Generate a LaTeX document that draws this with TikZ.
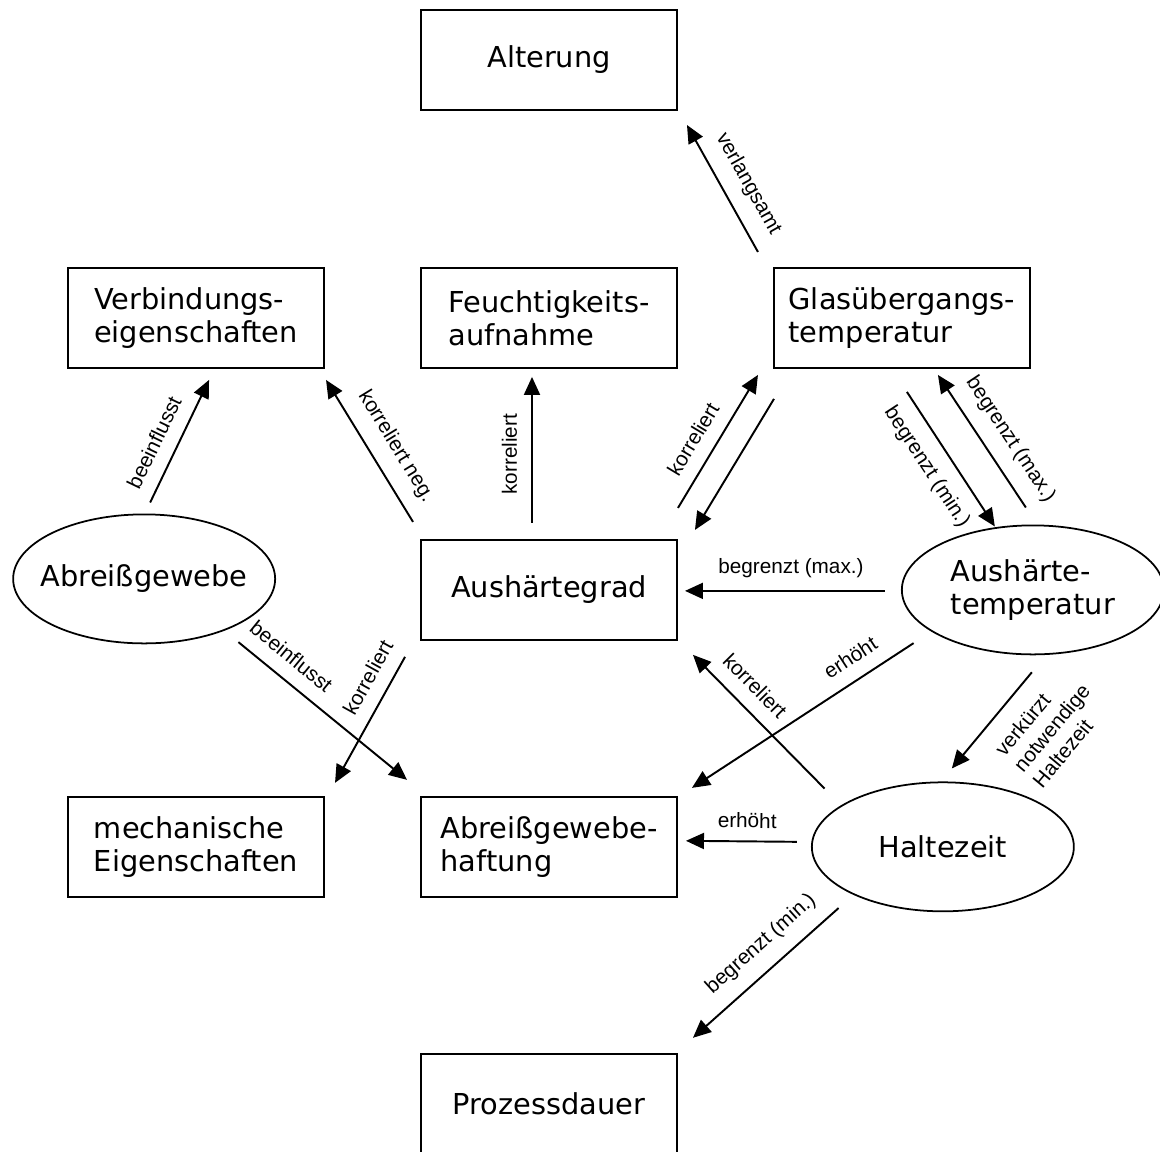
\documentclass[tikz,border=0pt]{standalone}
\usepackage{fontspec}
\setmainfont{DejaVu Sans}
\newfontfamily\arialfont{Liberation Sans}
\usetikzlibrary{arrows.meta,positioning,shapes.geometric}

\begin{document}
\begin{tikzpicture}[
    x=0.2mm, y=-0.2mm,
    box/.style={rectangle, draw, line width=1.1pt, align=left, minimum width=5.12cm, minimum height=2cm, font=\fontsize{16.4}{18.8}\selectfont},
    oval/.style={ellipse, draw, line width=1pt, align=left, inner sep=1pt, minimum width=5.24cm, minimum height=2.58cm, font=\fontsize{16.4}{18.8}\selectfont},
    arrow/.style={-{Triangle[length=3.6mm,width=3.2mm]}, line width=1.1pt},
    rel/.style={sloped, inner sep=8pt, font=\arialfont\fontsize{11.8}{14}\selectfont}
]
\useasboundingbox (0,0) rectangle (1160,1151);

% boxes
\node[box] (alter) at (549,60) {Alterung};
\node[box, below=3.12cm of alter] (feucht) {Feuchtigkeits-\\aufnahme};
\node[box, left=1.9cm of feucht] (verb) {Verbindungs-\\eigenschaften};
\node[box, right=1.9cm of feucht] (glas) {Glasübergangs-\\temperatur};
\node[box, below=3.4cm of feucht] (grad) {Aushärtegrad};
\node[box, below=3.1cm of grad] (haft) {Abreißgewebe-\\haftung};
\node[box, left=1.9cm of haft] (mech) {mechanische\\Eigenschaften};
\node[box, below=3.1cm of haft] (dauer) {Prozessdauer};

% influencing factors
\node[oval, inner xsep=-3mm, left=2.88cm of grad, yshift=2.2mm] (gewebe) {Abreißgewebe};
\node[oval, right=4.46cm of grad] (temp) {Aushärte-\\temperatur};
\node[oval, right=2.66cm of haft] (halte) {Haltezeit};

% relations
\draw[arrow] ([shift={(-15,-15)}]glas.north west) -- node[rel, above, pos=.44] {verlangsamt} ([shift={(9,14)}]alter.south east);
\draw[arrow] ([shift={(6,-11)}]gewebe.north) -- node[rel, above, pos=.41] {beeinflusst} ([shift={(13,11)}]verb.south);
\draw[arrow] ([shift={(-7,-17)}]grad.north west) -- node[rel, above, pos=.44] {korreliert neg.} ([shift={(1,11)}]verb.south east);
\draw[arrow] ([shift={(-17,-16)}]grad.north) -- node[rel, above, pos=.47] {korreliert} ([shift={(-17,8)}]feucht.south);
\draw[arrow] ([shift={(0,-31)}]grad.north east) -- node[rel, above, pos=.43] {korreliert} ([shift={(-15,6)}]glas.south west);
\draw[arrow] ([shift={(1,30)}]glas.south west) -- ([shift={(17,-9)}]grad.north east);
\draw[arrow] ([shift={(5,23)}]glas.south) -- node[rel, below, pos=.46] {begrenzt (min.)} ([shift={(-38,2)}]temp.north);
\draw[arrow] ([shift={(-7,-17)}]temp.north) -- node[rel, above, pos=.41] {begrenzt (max.)} ([shift={(36,6)}]glas.south);
\draw[arrow] ([shift={(-16,1)}]temp.west) -- node[rel, above, inner sep=7pt, pos=.47] {begrenzt (max.)} ([shift={(7,1)}]grad.east);
\draw[arrow] ([shift={(-26,7)}]temp.south west) -- node[rel, above, pos=.23] {erhöht} ([shift={(14,-8)}]haft.north east);
\draw[arrow] ([shift={(-25,-12)}]halte.north west) -- node[rel, above, pos=.65] {korreliert} ([shift={(15,14)}]grad.south east);
\draw[arrow] ([shift={(-1,17)}]temp.south) -- node[rel, below, inner sep=10pt, pos=.24, align=left] {verkürzt\\notwendige\\Haltezeit} ([shift={(9,-13)}]halte.north);
\draw[arrow] ([shift={(-14,-5)}]halte.west) -- node[rel, above, inner sep=7pt, pos=.45] {erhöht} ([shift={(8,-6)}]haft.east);
\draw[arrow] ([shift={(-11,15)}]halte.south west) -- node[rel, above, pos=.42] {begrenzt (min.)} ([shift={(15,-15)}]dauer.north east);
\draw[arrow] ([shift={(1,17)}]gewebe.south east) -- node[rel, above, pos=.23] {beeinflusst} ([shift={(-13,-16)}]haft.north west);
\draw[arrow] ([shift={(-15,16)}]grad.south west) -- node[rel, above, pos=.25] {korreliert} ([shift={(10,-13)}]mech.north east);
\end{tikzpicture}
\end{document}
